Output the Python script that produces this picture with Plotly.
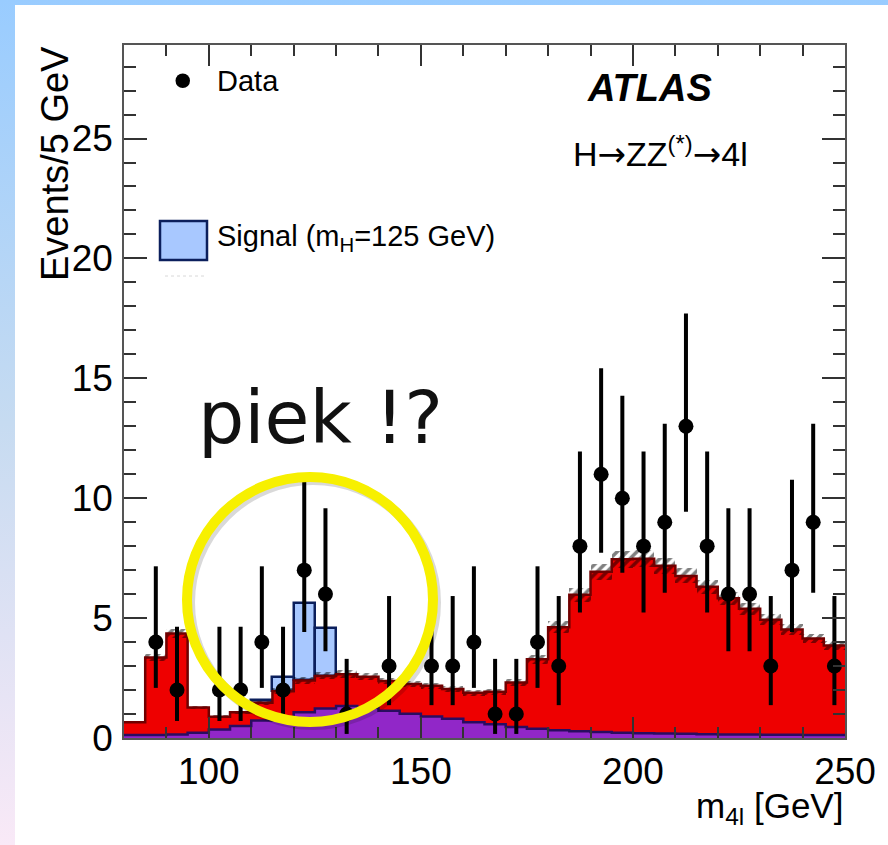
"""
ATLAS H->ZZ(*)->4l mass spectrum (slide reproduction).
"""
import base64

import plotly.graph_objects as go

# ---- data ----
bin_low = list(range(80, 250, 5))
bin_width = 5

bkg_purple = [0.12, 0.12, 0.15, 0.22, 0.35, 0.50, 0.73, 0.87, 1.07, 1.23,
              1.33, 1.26, 1.14, 1.01, 0.90, 0.80, 0.66, 0.57, 0.46, 0.39,
              0.32, 0.28, 0.25, 0.22, 0.20, 0.19, 0.18, 0.16, 0.15, 0.15,
              0.14, 0.14, 0.13, 0.13]
bkg_total = [0.66, 3.36, 4.36, 1.27, 0.89, 1.07, 1.47, 1.95, 2.40, 2.59,
             2.66, 2.55, 2.38, 2.25, 2.18, 2.04, 1.89, 1.93, 2.31, 3.28,
             4.62, 5.97, 6.93, 7.45, 7.48, 7.18, 6.76, 6.31, 5.83, 5.39,
             4.93, 4.52, 4.15, 3.86]
bkg_unc = [0.05, 0.15, 0.20, 0.08, 0.06, 0.07, 0.09, 0.12, 0.14, 0.15,
           0.16, 0.15, 0.14, 0.14, 0.13, 0.12, 0.12, 0.12, 0.14, 0.18,
           0.24, 0.30, 0.33, 0.34, 0.34, 0.33, 0.31, 0.29, 0.27, 0.25,
           0.23, 0.22, 0.20, 0.19]
signal_top = [None, None, None, None, None, None, 1.60, 2.53, 5.62, 4.57,
              None, None, None, None, None, None, None, None, None, None,
              None, None, None, None, None, None, None, None, None, None,
              None, None, None, None]

data_n = [None, 4, 2, None, 2, 2, 4, 2, 7, 6,
          1, None, 3, None, 3, 3, 4, 1, 1, 4,
          3, 8, 11, 10, 8, 9, 13, 8, 6, 6,
          3, 7, 9, 3]
data_err_lo = [0, 1.91, 1.29, 0, 1.29, 1.29, 1.91, 1.29, 2.58, 2.38,
               0.83, 0, 1.63, 0, 1.63, 1.63, 1.91, 0.83, 0.83, 1.91,
               1.63, 2.77, 3.27, 3.11, 2.77, 2.94, 3.56, 2.77, 2.38, 2.38,
               1.63, 2.58, 2.94, 1.63]
data_err_hi = [0, 3.16, 2.64, 0, 2.64, 2.64, 3.16, 2.64, 3.77, 3.58,
               2.30, 0, 2.92, 0, 2.92, 2.92, 3.16, 2.30, 2.30, 3.16,
               2.92, 3.95, 4.42, 4.27, 3.95, 4.11, 4.70, 3.95, 3.58, 3.58,
               2.92, 3.77, 4.11, 2.92]

x_ticks = [100, 150, 200, 250]
y_ticks = [0, 5, 10, 15, 20, 25]

# ---- derived geometry ----
centers = [b + bin_width / 2 for b in bin_low]
edges_x = bin_low + [bin_low[-1] + bin_width]

W, H = 888, 845
L, R, T, B = 124, 43, 45, 107


def px(x):
    return (x - L) / (W - L - R)


def py(y):
    return (H - B - y) / (H - T - B)


FONT = "Liberation Sans, Arial, sans-serif"
RED, RED_LINE = "#ee0000", "#700000"
PURPLE, PURPLE_LINE = "#9127c8", "#2a0c60"
SIG, SIG_LINE = "#a8c8ff", "#0b1f5c"


def step(vals):
    return vals + [vals[-1]]


fig = go.Figure()

fig.add_trace(go.Bar(x=centers, y=bkg_purple, base=0, width=bin_width,
                     marker=dict(color=PURPLE, line_width=0)))
fig.add_trace(go.Bar(x=centers, y=[t - p for t, p in zip(bkg_total, bkg_purple)],
                     base=bkg_purple, width=bin_width,
                     marker=dict(color=RED, line_width=0)))
sig_idx = [i for i, s in enumerate(signal_top) if s is not None]
fig.add_trace(go.Bar(x=[centers[i] for i in sig_idx],
                     y=[signal_top[i] - bkg_total[i] for i in sig_idx],
                     base=[bkg_total[i] for i in sig_idx], width=bin_width,
                     marker=dict(color=SIG, line=dict(color=SIG_LINE, width=2.5))))
fig.add_trace(go.Bar(x=centers, y=[2 * u for u in bkg_unc],
                     base=[t - u for t, u in zip(bkg_total, bkg_unc)],
                     width=bin_width,
                     marker=dict(color="rgba(0,0,0,0)", line_width=0,
                                 pattern=dict(shape="/", fgcolor="#000000",
                                              bgcolor="rgba(0,0,0,0)",
                                              size=7, solidity=0.5))))

# step outlines
fig.add_trace(go.Scatter(x=edges_x, y=step(bkg_purple), mode="lines",
                         line=dict(color=PURPLE_LINE, width=2.5, shape="hv")))
fig.add_trace(go.Scatter(x=edges_x, y=step(bkg_total), mode="lines",
                         line=dict(color=RED_LINE, width=2.5, shape="hv")))

# data points
pts = [i for i, n in enumerate(data_n) if n is not None]
fig.add_trace(go.Scatter(
    x=[centers[i] for i in pts], y=[data_n[i] for i in pts], mode="markers",
    marker=dict(color="black", size=15),
    error_y=dict(type="data", symmetric=False,
                 array=[data_err_hi[i] for i in pts],
                 arrayminus=[data_err_lo[i] for i in pts],
                 color="black", thickness=4, width=0)))

# ---- background (slide) ----
svg = (
    "<svg xmlns='http://www.w3.org/2000/svg' width='888' height='845'>"
    "<defs><linearGradient id='g' x1='0' y1='0' x2='0' y2='1'>"
    "<stop offset='0' stop-color='#99ccff'/>"
    "<stop offset='0.5' stop-color='#c6dbf1'/>"
    "<stop offset='1' stop-color='#f9e9f7'/>"
    "</linearGradient></defs>"
    "<rect width='888' height='845' fill='url(#g)'/>"
    "<rect x='15' y='5' width='873' height='840' fill='white'/></svg>"
)
bg_src = "data:image/svg+xml;base64," + base64.b64encode(svg.encode()).decode()

shapes = [
    # legend markers
    dict(type="circle", xref="paper", yref="paper",
         x0=px(175.5), x1=px(190), y0=py(88), y1=py(73.5),
         fillcolor="black", line_width=0),
    dict(type="rect", xref="paper", yref="paper",
         x0=px(160), x1=px(207), y0=py(260), y1=py(221),
         fillcolor=SIG, line=dict(color=SIG_LINE, width=2.5)),
    dict(type="line", xref="paper", yref="paper",
         x0=px(165), x1=px(207), y0=py(276), y1=py(276),
         line=dict(color="#d8d8d8", width=1, dash="dot")),
    # yellow highlight circle with faint shadow
    dict(type="circle", xref="paper", yref="paper", layer="above",
         x0=px(190), x1=px(436), y0=py(725), y1=py(480),
         line=dict(color="rgba(0,0,0,0.15)", width=10)),
    dict(type="circle", xref="paper", yref="paper", layer="above",
         x0=px(187), x1=px(433), y0=py(722), y1=py(477),
         line=dict(color="#f7f000", width=10)),
]

ARROW = "<span style='font-family:DejaVu Sans'>\u2192</span>"

annotations = [
    dict(text="Events/5 GeV", x=px(55), y=py(164), textangle=-90,
         font=dict(size=38, color="black")),
    dict(text="m<sub>4l</sub> [GeV]", x=px(845), y=py(808), xanchor="right",
         font=dict(size=35, color="black")),
    dict(text="Data", x=px(215), y=py(81), xanchor="left",
         font=dict(size=29, color="black")),
    dict(text="Signal (m<sub>H</sub>=125 GeV)", x=px(215), y=py(238),
         xanchor="left", font=dict(size=29, color="black")),
    dict(text="<b><i>ATLAS</i></b>", x=px(649), y=py(88),
         font=dict(size=38, color="black")),
    dict(text="H" + ARROW + "ZZ<sup>(*)</sup>" + ARROW + "4l", x=px(660), y=py(152),
         font=dict(size=34, color="black")),
    dict(text="piek !?", x=px(196), y=py(417), xanchor="left",
         font=dict(size=73, color="#111111",
                   family="DejaVu Sans, Verdana, sans-serif")),
]
for a in annotations:
    a.setdefault("xanchor", "center")
    a.update(xref="paper", yref="paper", showarrow=False, yanchor="middle")

axis_common = dict(
    ticks="inside", showline=True, linecolor="#555555", linewidth=1.5,
    mirror="ticks", tickcolor="#333333", tickwidth=1.5, showgrid=False,
    zeroline=False, tickfont=dict(size=37, color="black"),
)

fig.update_layout(
    width=W, height=H,
    margin=dict(l=L, r=R, t=T, b=B),
    paper_bgcolor="white", plot_bgcolor="white",
    barmode="overlay", bargap=0, showlegend=False,
    font=dict(family=FONT, color="black"),
    xaxis=dict(range=[80, 250], tickvals=x_ticks, ticklen=21,
               minor=dict(dtick=10, tick0=0, ticklen=11, ticks="inside",
                          tickcolor="#333333", tickwidth=1.5),
               **axis_common),
    yaxis=dict(range=[0, 28.9], tickvals=y_ticks, ticklen=23,
               minor=dict(dtick=1, tick0=0, ticklen=12, ticks="inside",
                          tickcolor="#333333", tickwidth=1.5),
               ticklabelstandoff=2,
               **axis_common),
    shapes=shapes,
    annotations=annotations,
    images=[dict(source=bg_src, xref="paper", yref="paper",
                 x=px(0), y=py(0), sizex=W / (W - L - R), sizey=H / (H - T - B),
                 xanchor="left", yanchor="top", sizing="stretch", layer="below")],
)

# the page body has a default 8px margin; drop it so the figure fills the window
fig.write_html("out.html",
               config={"displayModeBar": False},
               post_script="document.body.style.margin='0';"
                           "document.body.style.overflow='hidden';")
